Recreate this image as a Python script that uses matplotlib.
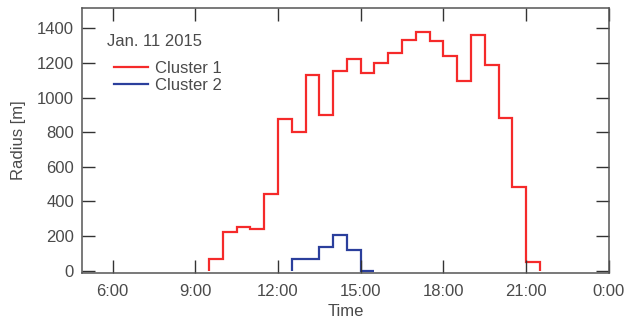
import numpy as np
import matplotlib
matplotlib.use("Agg")
import matplotlib.pyplot as plt

# half-hour bins, hours of the day
edges1 = np.arange(9.5, 21.51, 0.5)
radius1 = [67, 221, 255, 238, 445, 878, 803, 1130, 901, 1153, 1222, 1139,
           1201, 1255, 1331, 1379, 1326, 1241, 1097, 1364, 1186, 884, 486, 52]

edges2 = np.arange(12.5, 15.51, 0.5)
radius2 = [67, 67, 134, 206, 119, 0]

hour_ticks = [6, 9, 12, 15, 18, 21, 24]
hour_labels = ["6:00", "9:00", "12:00", "15:00", "18:00", "21:00", "0:00"]
radius_ticks = np.arange(0, 1401, 200)

plt.rcParams['font.family'] = ['Liberation Sans', 'DejaVu Sans']
txt = "#4a4a4a"

fig = plt.figure(figsize=(6.24, 3.22), dpi=100)
ax = fig.add_axes([0.131, 0.153, 0.8455, 0.8237])

ax.stairs(radius1, edges1, baseline=0, color="#f52a2a", lw=1.6, label="Cluster 1")
ax.stairs(radius2, edges2, baseline=0, color="#2b3f9c", lw=1.6, label="Cluster 2")

ax.set_xlim(4.88, 24.02)
ax.set_ylim(-12, 1520)
ax.set_xticks(hour_ticks)
ax.set_xticklabels(hour_labels)
ax.set_yticks(radius_ticks)

ax.tick_params(direction="in", length=9.5, width=1, color="#333333",
               top=True, right=True, labelsize=12, labelcolor=txt)
ax.tick_params(axis="y", pad=5.5)
ax.tick_params(axis="x", pad=8)
for s in ax.spines.values():
    s.set_color("#555555")
    s.set_linewidth(1.1)

ax.set_xlabel("Time", fontsize=12, color=txt, labelpad=4)
ax.set_ylabel("Radius [m]", fontsize=12, color=txt, labelpad=8)

ax.text(0.047, 0.871, "Jan. 11 2015", transform=ax.transAxes,
        fontsize=12, color=txt, va="center", ha="left")
ax.legend(loc="upper left", bbox_to_anchor=(0.062, 0.80), frameon=False,
          borderaxespad=0, borderpad=0,
          fontsize=12, handlelength=2.0, handletextpad=0.45,
          labelspacing=0.15, labelcolor=txt)

fig.savefig("out.png", dpi=100)
